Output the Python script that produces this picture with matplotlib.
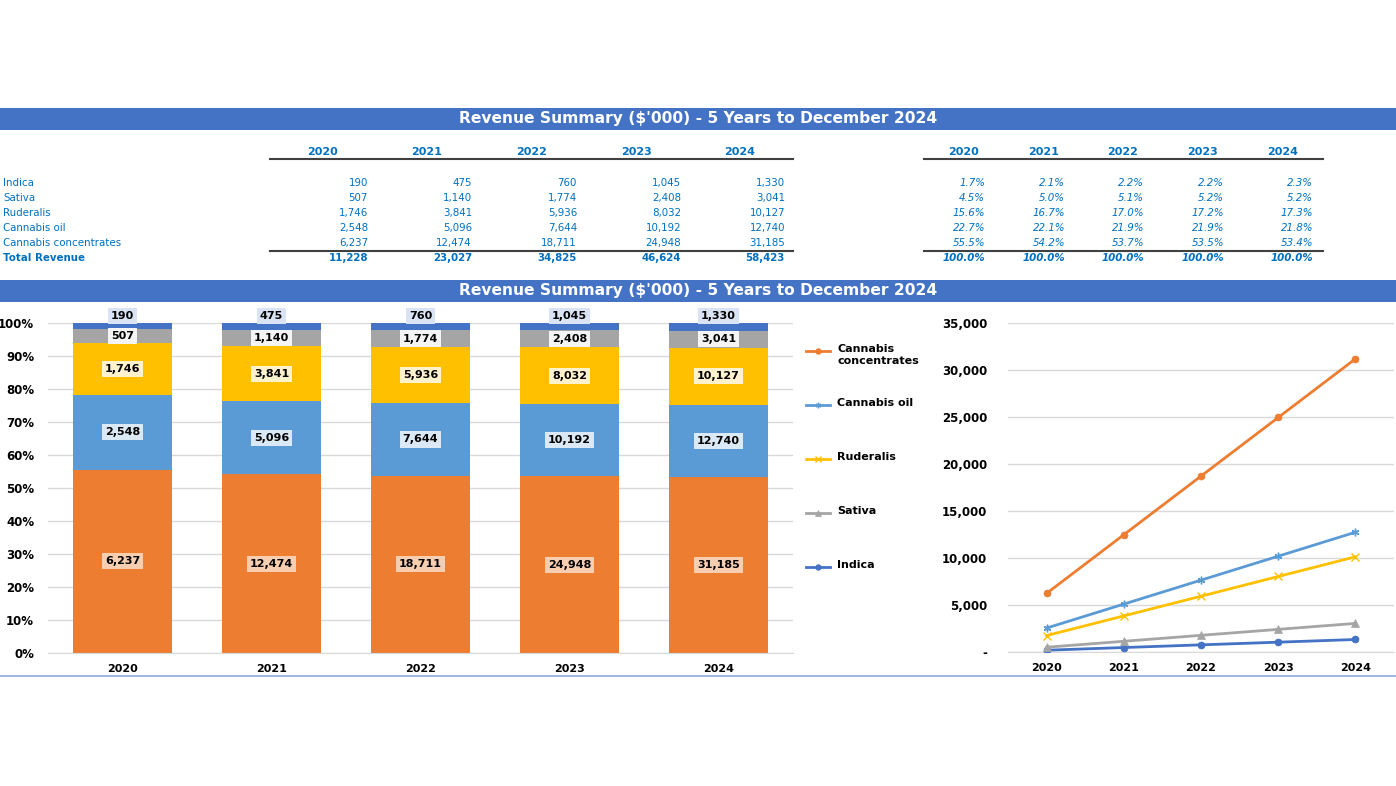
import matplotlib
matplotlib.use("Agg")
import matplotlib.pyplot as plt
from matplotlib.lines import Line2D
from matplotlib.patches import Rectangle
from matplotlib.colors import to_rgb
from matplotlib.ticker import FuncFormatter, PercentFormatter

# ---------------- data ----------------
years = ["2020", "2021", "2022", "2023", "2024"]
categories = ["Indica", "Sativa", "Ruderalis", "Cannabis oil", "Cannabis concentrates"]
indica = [190, 475, 760, 1045, 1330]
sativa = [507, 1140, 1774, 2408, 3041]
ruderalis = [1746, 3841, 5936, 8032, 10127]
cannabis_oil = [2548, 5096, 7644, 10192, 12740]
cannabis_concentrates = [6237, 12474, 18711, 24948, 31185]
totals = [11228, 23027, 34825, 46624, 58423]
series = [indica, sativa, ruderalis, cannabis_oil, cannabis_concentrates]
colors = ["#4472C4", "#A5A5A5", "#FFC000", "#5B9BD5", "#ED7D31"]
markers = ["o", "^", "x", (6, 2, 0), "o"]
title = "Revenue Summary ($'000) - 5 Years to December 2024"

W, H = 1396, 786
fig = plt.figure(figsize=(W / 100, H / 100), dpi=100)
plt.rcParams['font.family'] = ['DejaVu Sans']


def fx(x):
    return x / W


def fy(y):
    return 1 - y / H


def tint(c, w):
    r, g, b = to_rgb(c)
    return (r + (1 - r) * w, g + (1 - g) * w, b + (1 - b) * w)


BLUE_TXT = "#0070C0"
BANNER = "#4472C4"

# ---------------- banners ----------------
for ytop, ybot in [(108, 130), (280, 302)]:
    fig.add_artist(Rectangle((0, fy(ybot)), 1, (ybot - ytop) / H, transform=fig.transFigure,
                             facecolor=BANNER, edgecolor="none"))
    fig.text(fx(698), fy((ytop + ybot) / 2), title, color="white", fontsize=11.2,
             fontweight="bold", ha="center", va="center")

# ---------------- tables ----------------
row_y = [183, 198, 213, 228, 243]
total_y = 258
fs_tab = 7.4
left_val_x = [368, 472, 577, 681, 785]
left_hdr_x = [323, 427, 532, 636, 740]
right_val_x = [985, 1065, 1144, 1224, 1313]
right_hdr_x = [964, 1044, 1123, 1203, 1283]

for i, yr in enumerate(years):
    fig.text(fx(left_hdr_x[i]), fy(152), yr, color=BLUE_TXT, fontsize=fs_tab + 0.6,
             fontweight="bold", ha="center", va="center")
    fig.text(fx(right_hdr_x[i]), fy(152), yr, color=BLUE_TXT, fontsize=fs_tab + 0.6,
             fontweight="bold", ha="center", va="center")

for (x0, x1) in [(270, 793), (924, 1323)]:
    fig.add_artist(Line2D([fx(x0), fx(x1)], [fy(159), fy(159)], transform=fig.transFigure,
                          color="#404040", lw=1.5))
    fig.add_artist(Line2D([fx(x0), fx(x1)], [fy(250.5), fy(250.5)], transform=fig.transFigure,
                          color="#404040", lw=1.5))

for r, (cat, s) in enumerate(zip(categories, series)):
    fig.text(fx(3), fy(row_y[r]), cat, color=BLUE_TXT, fontsize=fs_tab, ha="left", va="center")
    for i in range(len(years)):
        fig.text(fx(left_val_x[i]), fy(row_y[r]), f"{s[i]:,}", color=BLUE_TXT, fontsize=fs_tab,
                 ha="right", va="center")
        fig.text(fx(right_val_x[i]), fy(row_y[r]), f"{s[i] / totals[i] * 100:.1f}%", color=BLUE_TXT,
                 fontsize=fs_tab, ha="right", va="center", style="italic")

fig.text(fx(3), fy(total_y), "Total Revenue", color=BLUE_TXT, fontsize=fs_tab, ha="left",
         va="center", fontweight="bold")
for i in range(len(years)):
    fig.text(fx(left_val_x[i]), fy(total_y), f"{totals[i]:,}", color=BLUE_TXT, fontsize=fs_tab,
             ha="right", va="center", fontweight="bold")
    fig.text(fx(right_val_x[i]), fy(total_y), f"{100.0:.1f}%", color=BLUE_TXT, fontsize=fs_tab,
             ha="right", va="center", fontweight="bold", style="italic")

# ---------------- stacked 100% bar chart ----------------
axb = fig.add_axes([fx(48), fy(653), (793 - 48) / W, (653 - 323) / H])
xs = list(range(len(years)))
stack_order = [cannabis_concentrates, cannabis_oil, ruderalis, sativa, indica]
stack_colors = ["#ED7D31", "#5B9BD5", "#FFC000", "#A5A5A5", "#4472C4"]
label_tint = [0.62, 0.78, 0.8, 0.88, 0.8]
bottom = [0.0] * len(years)
for k, (s, c) in enumerate(zip(stack_order, stack_colors)):
    frac = [s[i] / totals[i] for i in range(len(years))]
    axb.bar(xs, frac, bottom=bottom, width=0.66, color=c, zorder=2)
    for i in range(len(years)):
        ymid = bottom[i] + frac[i] / 2
        if k == len(stack_order) - 1:
            ymid = 1.022
        axb.text(xs[i], ymid, f"{s[i]:,}", ha="center", va="center", fontsize=8,
                 fontweight="bold", color="black", zorder=5, clip_on=False,
                 bbox=dict(boxstyle="square,pad=0.28", facecolor=tint(c, label_tint[k]),
                           edgecolor="none"))
    bottom = [bottom[i] + frac[i] for i in range(len(years))]

axb.set_xlim(-0.5, len(years) - 0.5)
axb.set_ylim(0, 1)
axb.set_xticks(xs)
axb.set_xticklabels(years, fontweight="bold", fontsize=8)
axb.set_yticks([i / 10 for i in range(11)])
axb.yaxis.set_major_formatter(PercentFormatter(1.0, decimals=0))
for lab in axb.get_yticklabels():
    lab.set_fontweight("bold")
    lab.set_fontsize(8.5)
axb.tick_params(length=0, pad=8)
axb.tick_params(axis="y", pad=10)
axb.grid(axis="y", color="#D9D9D9", lw=1, zorder=0)
for sp in ["top", "right", "left"]:
    axb.spines[sp].set_visible(False)
axb.spines["bottom"].set_color("#D9D9D9")

# ---------------- line chart ----------------
axl = fig.add_axes([fx(1008), fy(652), 386 / W, (652 - 323) / H])
lines = {}
for name, s, c, m in zip(categories, series, colors, markers):
    ms = 5 if m == "o" else 5.5
    ln, = axl.plot(xs, s, color=c, marker=m, markersize=ms, lw=2, zorder=3,
                   markeredgewidth=1 if m in ("x", (6, 2, 0)) else 0.5)
    lines[name] = (ln, c, m, ms)
axl.set_xlim(-0.5, len(years) - 0.5)
axl.set_ylim(0, 35000)
axl.set_yticks(range(0, 35001, 5000))
axl.yaxis.set_major_formatter(FuncFormatter(lambda v, p: "-" if v == 0 else f"{int(v):,}"))
axl.set_xticks(xs)
axl.set_xticklabels(years, fontweight="bold", fontsize=8)
for lab in axl.get_yticklabels():
    lab.set_fontweight("bold")
    lab.set_fontsize(8.5)
axl.tick_params(length=0, pad=8)
axl.tick_params(axis="y", pad=15)
axl.grid(axis="y", color="#D9D9D9", lw=1, zorder=0)
for sp in ["top", "right", "left"]:
    axl.spines[sp].set_visible(False)
axl.spines["bottom"].set_color("#D9D9D9")

# ---------------- legend (between charts) ----------------
leg_order = ["Cannabis concentrates", "Cannabis oil", "Ruderalis", "Sativa", "Indica"]
leg_y = [351, 405, 459, 513, 567]
for name, yy in zip(leg_order, leg_y):
    ln, c, m, ms = lines[name]
    fig.add_artist(Line2D([fx(806), fx(830)], [fy(yy), fy(yy)], transform=fig.transFigure,
                          color=c, lw=2))
    fig.add_artist(Line2D([fx(818)], [fy(yy)], transform=fig.transFigure, color=c, marker=m,
                          markersize=4, markeredgewidth=1 if m in ("x", (6, 2, 0)) else 0.5,
                          linestyle="none"))
    label = "Cannabis\nconcentrates" if name == "Cannabis concentrates" else name
    fig.text(fx(837), fy(yy - 7), label, fontsize=8, fontweight="bold", ha="left", va="top",
             linespacing=1.25)

# bottom separator line
fig.add_artist(Line2D([0, 1], [fy(676), fy(676)], transform=fig.transFigure, color="#8EA9DB", lw=1.2))

fig.savefig("out.png", dpi=100)
